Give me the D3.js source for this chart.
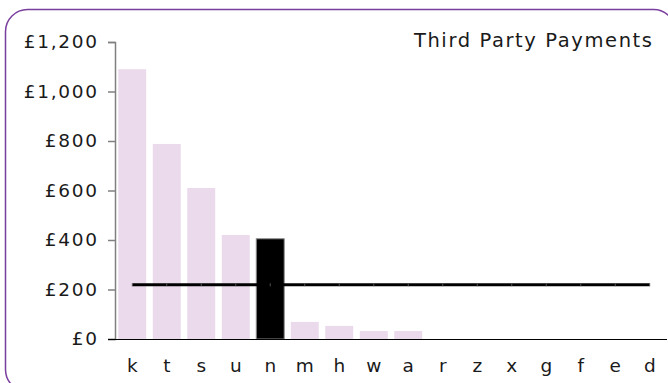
<!DOCTYPE html>
<html>
<head>
<meta charset="utf-8">
<script src="https://cdn.jsdelivr.net/npm/d3@7"></script>
<style>
  html, body { margin: 0; padding: 0; background: #fff; }
  svg { display: block; }
  text { font-family: "DejaVu Sans", sans-serif; fill: #1a1a1a; }
</style>
</head>
<body>
<svg id="chart" width="668" height="383"></svg>
<script>
// Third party payments by code, with the overall average
const categories = ["k", "t", "s", "u", "n", "m", "h", "w", "a", "r", "z", "x", "g", "f", "e", "d"];
const payments   = [1090, 788, 610, 420, 405, 69, 53, 32, 32, 0, 0, 0, 0, 0, 0, 0];
const highlighted = ["n"];
const averageValue = 219;
const yTicks = [0, 200, 400, 600, 800, 1000, 1200];
const chartTitle = "Third Party Payments";

const svg = d3.select("#chart");
const plot = { left: 115, right: 667, top: 42, bottom: 339 };
const fontSize = 18.5;
const letterSpacing = 1.7;

// Rounded outer frame
svg.append("rect")
  .attr("x", 5.5).attr("y", 9.5)
  .attr("width", 670).attr("height", 382)
  .attr("rx", 22).attr("ry", 22)
  .attr("fill", "none")
  .attr("stroke", "#7a3e9e")
  .attr("stroke-width", 1.5);

const x = d3.scaleBand()
  .domain(categories)
  .range([plot.left, plot.right])
  .paddingInner(0.19)
  .paddingOuter(0.095);

const y = d3.scaleLinear()
  .domain([0, 1200])
  .range([plot.bottom, plot.top]);

const fmt = v => "£" + d3.format(",")(v);

// Bars
svg.append("g")
  .selectAll("rect")
  .data(categories.map((c, i) => ({ c, v: payments[i] })))
  .join("rect")
  .attr("x", d => x(d.c))
  .attr("width", x.bandwidth())
  .attr("y", d => y(d.v))
  .attr("height", d => y(0) - y(d.v))
  .attr("fill", d => highlighted.includes(d.c) ? "#000" : "#ebd9ec")
  .attr("stroke", d => highlighted.includes(d.c) ? "#8c8c8c" : "none")
  .attr("stroke-width", 1);

// Y axis
const yAxis = svg.append("g")
  .attr("transform", `translate(${plot.left},0)`)
  .call(d3.axisLeft(y).tickValues(yTicks).tickFormat(fmt).tickSize(7).tickPadding(11));
yAxis.select(".domain").attr("stroke", "#808080").attr("stroke-width", 1.5);
yAxis.selectAll(".tick line").attr("stroke", "#808080").attr("stroke-width", 1.5);
yAxis.selectAll(".tick text")
  .attr("font-size", fontSize)
  .attr("font-family", "DejaVu Sans, sans-serif")
  .attr("fill", "#1a1a1a")
  .style("letter-spacing", letterSpacing + "px")
  .attr("dx", letterSpacing);

// X axis baseline and labels
const xAxis = svg.append("g")
  .attr("transform", `translate(0,${plot.bottom})`)
  .call(d3.axisBottom(x).tickSize(0).tickPadding(20));
xAxis.select(".domain").remove();
xAxis.append("line")
  .attr("x1", plot.left - 7).attr("x2", plot.right)
  .attr("y1", 0.5).attr("y2", 0.5)
  .attr("stroke", "#000").attr("stroke-width", 1.2);
xAxis.selectAll(".tick text")
  .attr("font-size", fontSize)
  .attr("font-family", "DejaVu Sans, sans-serif")
  .attr("fill", "#1a1a1a");

// Average line
const avgPts = categories.map(c => [x(c) + x.bandwidth() / 2, y(averageValue)]);
svg.append("path")
  .attr("d", d3.line()(avgPts))
  .attr("fill", "none")
  .attr("stroke", "#000")
  .attr("stroke-width", 3);
svg.append("g")
  .selectAll("line")
  .data(avgPts)
  .join("line")
  .attr("x1", d => d[0]).attr("x2", d => d[0])
  .attr("y1", d => d[1] - 1.5).attr("y2", d => d[1] + 1.5)
  .attr("stroke", "#666").attr("stroke-width", 0.8);

// Title
const titleSpacing = 1.6;
svg.append("text")
  .attr("x", 652 + titleSpacing)
  .attr("y", 47)
  .attr("text-anchor", "end")
  .attr("font-size", 19.5)
  .style("letter-spacing", titleSpacing + "px")
  .text(chartTitle);
</script>
</body>
</html>
